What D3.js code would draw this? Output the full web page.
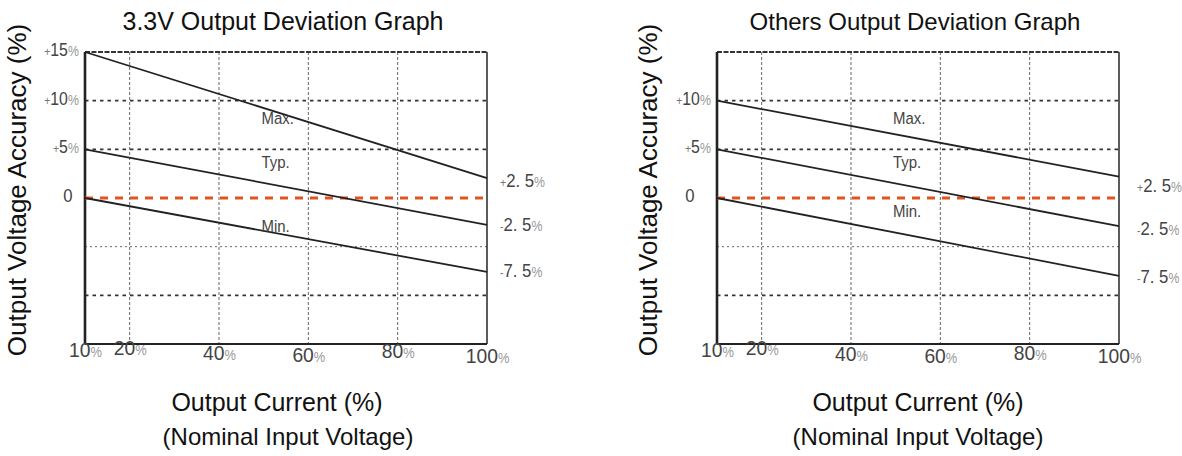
<!DOCTYPE html>
<html>
<head>
<meta charset="utf-8">
<script src="https://cdn.jsdelivr.net/npm/d3@7"></script>
<style>
body{margin:0;background:#fff}
svg{display:block}
</style>
</head>
<body>
<svg id="chart" width="1182" height="456"></svg>
<script>
// values
const xTicks = [10, 20, 40, 60, 80, 100]
const xEnds = [10, 100]
const yGridLines = [10, 5, -5, -10]
const leftYTicks = [15, 10, 5, 0]
const rightYTicks = [10, 5, 0]
const seriesNames = ["Max.", "Typ.", "Min."]
const leftMax = [15, 2.05]
const leftTyp = [5, -2.75]
const leftMin = [0, -7.6]
const rightMax = [10, 2.2]
const rightTyp = [5, -2.9]
const rightMin = [0, -8.0]
const endLabels = ["+2. 5", "-2. 5", "-7. 5"]

const sans = "'Liberation Sans',Arial,sans-serif"
const squeeze = "scale(0.88,1)"   // datasheet uses a narrow face

const panels = [
  {title: "3.3V Output Deviation Graph", dx: 0, series: [leftMax, leftTyp, leftMin], yTicks: leftYTicks,
   labelAt: [[49.5, 7.6], [49.5, 3.1], [49.5, -3.5]], xTitle: 277, xTitle2: 288, yTitle: 26, zeroDx: -17,
   endDy: [9, 6, 5], endDx: 13, xNudge: [0, -2, 3, 5, 1, 6]},
  {title: "Others Output Deviation Graph", dx: 632, series: [rightMax, rightTyp, rightMin], yTicks: rightYTicks,
   labelAt: [[49.4, 7.6], [49.4, 3.1], [49.4, -2.0]], xTitle: 286, xTitle2: 286, yTitle: 25, zeroDx: -27,
   endDy: [15, 9, 7], endDx: 18, xNudge: [0, -2, 4, 6, 3, 6]}
]

const svg = d3.select("#chart")
const plotL = 85, plotR = 487, plotT = 52, plotB = 344

const x = d3.scaleLinear().domain([10, 100]).range([plotL, plotR])
const y = d3.scaleLinear().domain([-15, 15]).range([plotB, plotT])

function pctText(sel, sign, num, pct, size) {
  sel.text(null).style("font-family", sans)
  if (sign) sel.append("tspan").attr("font-size", 12).attr("fill", "#777").text(sign)
  sel.append("tspan").attr("font-size", size).attr("fill", "#444").text(num)
  if (pct) sel.append("tspan").attr("font-size", 14).attr("fill", "#999").text("%")
}

panels.forEach(p => {
  const g = svg.append("g").attr("transform", "translate(" + p.dx + ",0)")

  g.append("text")
    .attr("x", 283).attr("y", 30)
    .attr("text-anchor", "middle")
    .style("font-family", sans).style("font-size", p.dx ? "24px" : "25px")
    .attr("fill", "#111")
    .text(p.title)

  // vertical grid
  g.selectAll(".vgrid").data(xTicks.slice(1, -1)).enter().append("line")
    .attr("x1", d => x(d)).attr("x2", d => x(d))
    .attr("y1", plotT).attr("y2", plotB)
    .attr("stroke", "#666").attr("stroke-width", 1).attr("stroke-dasharray", "3,2")

  // horizontal grid
  g.selectAll(".hgrid").data(yGridLines).enter().append("line")
    .attr("x1", plotL).attr("x2", plotR)
    .attr("y1", d => y(d)).attr("y2", d => y(d))
    .attr("stroke", d => d == -5 ? "#666" : "#333")
    .attr("stroke-width", d => d == -5 ? 1 : 1.6)
    .attr("stroke-dasharray", d => d == -5 ? "2,3" : "3.5,4")

  // frame
  g.append("line").attr("x1", plotL).attr("x2", plotR).attr("y1", y(15)).attr("y2", y(15))
    .attr("stroke", "#333").attr("stroke-width", 2).attr("stroke-dasharray", "5,1.5")
  g.append("line").attr("x1", plotR).attr("x2", plotR).attr("y1", plotT).attr("y2", plotB)
    .attr("stroke", "#333").attr("stroke-width", 1.6)
  g.append("line").attr("x1", plotL).attr("x2", plotR).attr("y1", plotB).attr("y2", plotB)
    .attr("stroke", "#222").attr("stroke-width", 2.2)
  g.append("line").attr("x1", plotL).attr("x2", plotL).attr("y1", plotT).attr("y2", plotB)
    .attr("stroke", "#222").attr("stroke-width", 2.6)

  // zero line
  g.append("line").attr("x1", x(10)).attr("x2", x(100)).attr("y1", y(0)).attr("y2", y(0))
    .attr("stroke", "#e2541e").attr("stroke-width", 3).attr("stroke-dasharray", "8,7")

  // Max / Typ / Min
  const line = d3.line().x((d, i) => x(xEnds[i])).y(d => y(d))
  g.selectAll(".curve").data(p.series).enter().append("path")
    .attr("d", d => line(d))
    .attr("fill", "none").attr("stroke", "#222").attr("stroke-width", 1.8)

  g.selectAll(".curveLabel").data(seriesNames).enter().append("text")
    .attr("transform", (d, i) => "translate(" + x(p.labelAt[i][0]) + "," + y(p.labelAt[i][1]) + ")" + squeeze)
    .style("font-family", sans).style("font-size", "17px")
    .attr("fill", "#444")
    .text(d => d)

  // right end labels
  g.selectAll(".endLabel").data(endLabels).enter().append("text")
    .attr("transform", (d, i) => "translate(" + (plotR + p.endDx) + "," + (y(p.series[i][1]) + p.endDy[i]) + ")" + squeeze)
    .each(function(d) { pctText(d3.select(this), d[0], d.slice(1), true, 19) })

  // x axis
  const xAxis = d3.axisBottom(x).tickValues(xTicks).tickSize(0).tickPadding(0)
  const xg = g.append("g").attr("transform", "translate(0," + plotB + ")").call(xAxis)
  xg.select(".domain").remove()
  xg.selectAll("text")
    .attr("dy", null)
    .attr("y", (d, i) => 13 + p.xNudge[i])
    .attr("transform", "scale(0.92,1)")
    .each(function(d) { pctText(d3.select(this), null, d, true, 21) })

  // y axis
  const yAxis = d3.axisLeft(y).tickValues(p.yTicks).tickSize(0).tickPadding(0)
  const yg = g.append("g").attr("transform", "translate(" + plotL + ",0)").call(yAxis)
  yg.select(".domain").remove()
  yg.selectAll("text")
    .attr("dy", "0.35em")
    .attr("transform", squeeze)
    .attr("x", d => d == 0 ? p.zeroDx / 0.88 : -7)
    .attr("text-anchor", d => d == 0 ? "middle" : "end")
    .each(function(d) {
      if (d == 0) pctText(d3.select(this), null, "0", false, 19)
      else pctText(d3.select(this), "+", d, true, 18)
    })

  // axis titles
  g.append("text")
    .attr("transform", "translate(" + p.yTitle + ",190)rotate(-90)")
    .attr("text-anchor", "middle")
    .style("font-family", sans).style("font-size", "26px")
    .attr("fill", "#111")
    .text("Output Voltage Accuracy (%)")

  g.append("text")
    .attr("x", p.xTitle).attr("y", 411)
    .attr("text-anchor", "middle")
    .style("font-family", sans).style("font-size", "25px")
    .attr("fill", "#111")
    .text("Output Current (%)")

  g.append("text")
    .attr("x", p.xTitle2).attr("y", 445)
    .attr("text-anchor", "middle")
    .style("font-family", sans).style("font-size", "24px")
    .attr("fill", "#111")
    .text("(Nominal Input Voltage)")
})
</script>
</body>
</html>
